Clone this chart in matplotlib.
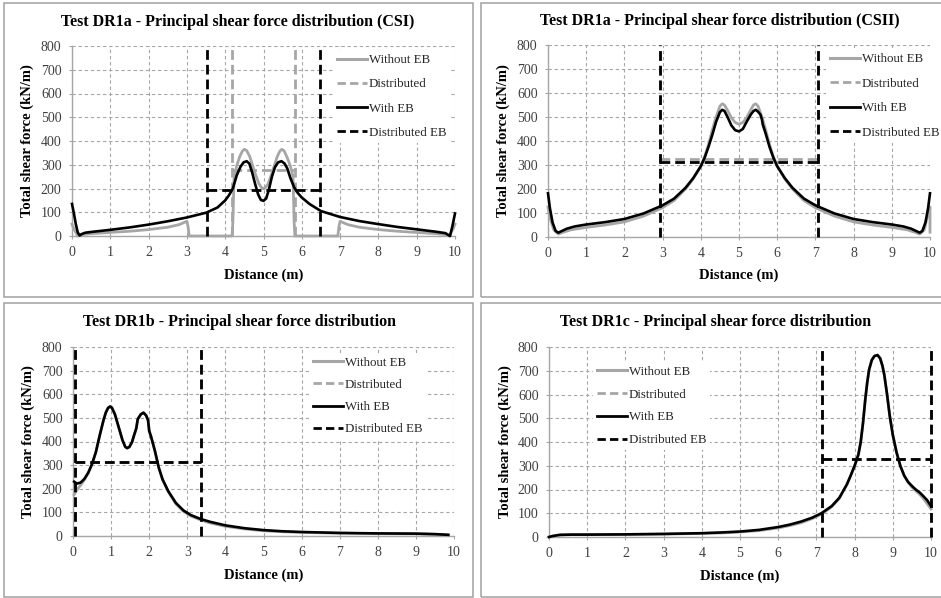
import matplotlib
matplotlib.use('Agg')
import matplotlib.pyplot as plt
import numpy as np
from matplotlib.patches import Rectangle
from matplotlib.lines import Line2D

plt.rcParams['font.family'] = ['Liberation Serif', 'DejaVu Serif']

# ---------------- data ----------------
titles = ["Test DR1a - Principal shear force distribution (CSI)",
          "Test DR1a - Principal shear force distribution (CSII)",
          "Test DR1b - Principal shear force distribution",
          "Test DR1c - Principal shear force distribution"]
legend_labels = ["Without EB", "Distributed", "With EB", "Distributed EB"]
x_ticks = [0, 1, 2, 3, 4, 5, 6, 7, 8, 9, 10]
y_ticks = [0, 100, 200, 300, 400, 500, 600, 700, 800]

# Panel 1 (CSI)
p1_x_without = [0, 0.05, 0.15, 0.25, 0.5, 1.0, 1.5, 2.0, 2.5, 2.8, 3.0, 3.03, 3.06, 4.18, 4.2, 4.23,
                4.3, 4.38, 4.45, 4.5, 4.56, 4.64, 4.72, 4.8, 4.88, 4.95, 5.0, 5.05, 5.12, 5.2, 5.28,
                5.36, 5.43, 5.48, 5.54, 5.62, 5.7, 5.77, 5.8, 5.82, 6.94, 6.97,
                7.0, 7.2, 7.5, 8.0, 8.5, 9.0, 9.5, 9.75, 9.85, 9.95, 10.0]
p1_y_without = [50, 30, 0, 6, 10, 15, 20, 27, 37, 48, 62, 40, 0, 0, 60, 240,
                295, 335, 358, 365, 360, 335, 295, 255, 220, 203, 200, 203, 220, 255, 295,
                335, 358, 365, 358, 330, 295, 250, 60, 0, 0, 40,
                62, 48, 37, 27, 20, 15, 10, 6, 0, 30, 50]
p1_x_with = [0, 0.05, 0.1, 0.15, 0.2, 0.25, 0.35, 0.5, 1.0, 1.5, 2.0, 2.5, 3.0, 3.5, 3.8, 4.0, 4.1,
             4.2, 4.3, 4.4, 4.48, 4.56, 4.63, 4.7, 4.78, 4.86, 4.93, 5.0, 5.07, 5.14, 5.22, 5.3,
             5.38, 5.47, 5.55, 5.62, 5.7, 5.8, 5.9, 6.0, 6.2, 6.5, 7.0, 7.5, 8.0, 8.5, 9.0, 9.5,
             9.75, 9.82, 9.87, 9.93, 10.0]
p1_y_with = [135, 95, 50, 15, 2, 8, 14, 17, 26, 36, 48, 62, 78, 98, 120, 150, 172,
             200, 255, 292, 310, 315, 305, 270, 220, 175, 152, 148, 158, 195, 250, 290,
             310, 315, 305, 285, 245, 205, 180, 162, 135, 105, 80, 63, 50, 38, 28, 18,
             12, 5, 0, 40, 95]
p1_dist_x = [4.18, 5.82]
p1_dist_h = 277
p1_distEB_x = [3.53, 6.47]
p1_distEB_h = 193

# Panel 2 (CSII)
p2_x_without = [0, 0.05, 0.15, 0.27, 0.4, 0.6, 1.0, 1.5, 2.0, 2.5, 3.0, 3.3, 3.6, 3.8, 4.0, 4.1,
                4.2, 4.3, 4.4, 4.5, 4.56, 4.62, 4.7, 4.8, 4.9, 5.0, 5.1, 5.2, 5.3, 5.38, 5.44,
                5.5, 5.6, 5.7, 5.8, 5.9, 6.0, 6.2, 6.4, 6.7, 7.0, 7.5, 8.0, 8.5, 9.0, 9.4, 9.6,
                9.73, 9.85, 9.95, 10.0, 10.0]
p2_y_without = [125, 80, 30, 12, 20, 30, 40, 50, 63, 87, 122, 152, 200, 242, 295, 335,
                385, 445, 500, 545, 555, 550, 528, 497, 477, 470, 477, 497, 528, 550, 555,
                545, 500, 445, 385, 335, 295, 242, 200, 152, 122, 87, 63, 50, 40, 30, 20,
                12, 30, 100, 125, 20]
p2_x_with = [0, 0.05, 0.12, 0.2, 0.27, 0.35, 0.5, 0.7, 1.0, 1.5, 2.0, 2.5, 3.0, 3.3, 3.6, 3.8,
             4.0, 4.1, 4.2, 4.3, 4.4, 4.5, 4.56, 4.62, 4.7, 4.8, 4.9, 5.0, 5.1, 5.2, 5.3, 5.33,
             5.38, 5.44, 5.5, 5.56, 5.6, 5.62, 5.7, 5.8, 5.9, 6.0, 6.2, 6.4, 6.7, 7.0, 7.5, 8.0,
             8.5, 9.0, 9.3, 9.5, 9.65, 9.73, 9.8, 9.88, 9.95, 10.0]
p2_y_with = [182, 120, 60, 25, 18, 24, 35, 44, 52, 62, 75, 98, 132, 160, 205, 245,
             295, 330, 375, 425, 480, 520, 530, 525, 500, 465, 445, 440, 450, 480, 508, 515,
             525, 530, 522, 510, 490, 470, 430, 375, 330, 295, 245, 205, 160, 132, 98, 75,
             62, 52, 44, 35, 24, 18, 25, 60, 120, 182]
p2_dist_x = [2.93, 7.07]
p2_dist_h = 327
p2_distEB_x = [2.93, 7.07]
p2_distEB_h = 313

# Panel 3 (DR1b)
p3_x_without = [0.03, 0.1, 0.2, 0.3, 0.4, 0.5, 0.6, 0.7, 0.8, 0.86, 0.92, 0.97, 1.02, 1.1, 1.2,
                1.3, 1.37, 1.42, 1.48, 1.55, 1.6, 1.66, 1.7, 1.78, 1.85, 1.92, 1.97, 2.0, 2.05,
                2.15, 2.25, 2.35, 2.5, 2.7, 2.9, 3.1, 3.35, 3.6, 4.0, 4.5, 5.0, 5.5, 6.0, 7.0,
                8.0, 9.0, 9.5, 9.85]
p3_y_without = [175, 195, 215, 238, 266, 304, 355, 425, 490, 522, 542, 548, 543, 515, 460,
                405, 378, 372, 377, 398, 425, 455, 495, 515, 522, 510, 490, 445, 420,
                360, 290, 238, 187, 136, 104, 84, 68, 55, 41, 30, 22, 18, 15, 12,
                10, 9, 7, 4]
p3_x_with = [0.03, 0.1, 0.2, 0.3, 0.4, 0.5, 0.6, 0.7, 0.8, 0.86, 0.92, 0.97, 1.02, 1.1, 1.2,
             1.3, 1.37, 1.42, 1.48, 1.55, 1.6, 1.66, 1.7, 1.78, 1.85, 1.92, 1.97, 2.0, 2.05,
             2.15, 2.25, 2.35, 2.5, 2.7, 2.9, 3.1, 3.35, 3.6, 4.0, 4.5, 5.0, 5.5, 6.0, 7.0,
             8.0, 9.0, 9.5, 9.85]
p3_y_with = [230, 222, 226, 242, 268, 305, 355, 425, 490, 522, 542, 548, 543, 515, 460,
             405, 378, 372, 377, 398, 425, 455, 495, 515, 522, 510, 490, 445, 420,
             360, 290, 240, 190, 140, 108, 88, 72, 60, 45, 33, 25, 20, 17, 13,
             11, 10, 8, 5]
p3_dist_x = [0.04, 3.35]
p3_dist_h = 315
p3_distEB_x = [0.04, 3.35]
p3_distEB_h = 315

# Panel 4 (DR1c)
p4_x_without = [0, 0.1, 0.2, 0.3, 0.6, 1.0, 2.0, 3.0, 4.0, 4.5, 5.0, 5.5, 6.0, 6.3, 6.6, 6.9, 7.13,
                7.4, 7.6, 7.8, 7.9, 8.0, 8.1, 8.16, 8.22, 8.28, 8.33, 8.38, 8.45, 8.52, 8.6, 8.67,
                8.73, 8.78, 8.85, 8.92, 9.0, 9.1, 9.2, 9.3, 9.4, 9.5, 9.6, 9.7, 9.8, 9.9, 10.0]
p4_y_without = [0, 4, 7, 9, 10, 10, 11, 12, 15, 17, 21, 27, 38, 48, 60, 78, 96,
                127, 162, 222, 258, 298, 345, 400, 480, 580, 650, 705, 745, 762, 766, 752,
                720, 680, 600, 510, 430, 355, 298, 258, 230, 210, 195, 180, 162, 140, 118]
p4_x_with = [0, 0.1, 0.2, 0.3, 0.6, 1.0, 2.0, 3.0, 4.0, 4.5, 5.0, 5.5, 6.0, 6.3, 6.6, 6.9, 7.13,
             7.4, 7.6, 7.8, 7.9, 8.0, 8.1, 8.16, 8.22, 8.28, 8.33, 8.38, 8.45, 8.52, 8.6, 8.67,
             8.73, 8.78, 8.85, 8.92, 9.0, 9.1, 9.2, 9.3, 9.4, 9.5, 9.6, 9.7, 9.8, 9.9, 10.0]
p4_y_with = [0, 4, 7, 9, 10, 10, 11, 13, 16, 19, 23, 30, 42, 52, 65, 82, 100,
             130, 165, 222, 260, 300, 348, 400, 480, 580, 650, 705, 745, 762, 766, 752,
             720, 680, 600, 510, 430, 355, 298, 258, 232, 215, 200, 188, 172, 155, 130]
p4_dist_x = [7.14, 10.0]
p4_dist_h = 329
p4_distEB_x = [7.14, 10.0]
p4_distEB_h = 329

# ---------------- layout (pixels) ----------------
W, H = 941, 598
fig = plt.figure(figsize=(W / 100, H / 100), dpi=100)


def fx(px):
    return px / W


def fy(py):
    return 1 - py / H


GRAY = '#A6A6A6'
GRID = '#A6A6A6'
TXT = '#404040'

panels = [
    dict(box=(4, 3, 473, 297), ax=(72, 46, 455, 236), title=(238, 22), ylab_x=27, xlab_y=275,
         leg=(337, 96.5, 0.95), data=(p1_x_without, p1_y_without, p1_x_with, p1_y_with,
                                       p1_dist_x, p1_dist_h, p1_distEB_x, p1_distEB_h)),
    dict(box=(481, 3, 943, 297), ax=(548, 45, 930, 237), title=(720, 21), ylab_x=503, xlab_y=275,
         leg=(830, 96, 0.97), data=(p2_x_without, p2_y_without, p2_x_with, p2_y_with,
                                     p2_dist_x, p2_dist_h, p2_distEB_x, p2_distEB_h)),
    dict(box=(4, 303, 473, 597), ax=(73, 347, 454, 536), title=(239, 322), ylab_x=28, xlab_y=575,
         leg=(313, 396, 0.78), data=(p3_x_without, p3_y_without, p3_x_with, p3_y_with,
                                      p3_dist_x, p3_dist_h, p3_distEB_x, p3_distEB_h)),
    dict(box=(481, 303, 943, 597), ax=(549, 347, 931, 537), title=(716, 322), ylab_x=505, xlab_y=576,
         leg=(597, 406, 0.83), data=(p4_x_without, p4_y_without, p4_x_with, p4_y_with,
                                      p4_dist_x, p4_dist_h, p4_distEB_x, p4_distEB_h)),
]


def dist_lines(xs, h, top):
    a, b = xs
    return [a, a, np.nan, a, b, np.nan, b, b], [0, top, np.nan, h, h, np.nan, 0, top]


for i, p in enumerate(panels):
    x0, y0, x1, y1 = p['box']
    fig.add_artist(Rectangle((fx(x0), fy(y1)), fx(x1) - fx(x0), fy(y0) - fy(y1),
                             transform=fig.transFigure, fill=False, edgecolor='#A0A0A0', lw=1.1))
    l, t, r, b = p['ax']
    ax = fig.add_axes([fx(l), fy(b), fx(r) - fx(l), fy(t) - fy(b)])
    ax.set_xlim(0, 10)
    ax.set_ylim(0, 800)
    ax.set_xticks(x_ticks)
    ax.set_yticks(y_ticks)
    ax.grid(True, color=GRID, lw=0.8, linestyle=(0, (3, 2.5)))
    ax.set_axisbelow(True)
    for s in ['top', 'right']:
        ax.spines[s].set_visible(False)
    for s in ['left', 'bottom']:
        ax.spines[s].set_color(GRAY)
        ax.spines[s].set_linewidth(1.0)
    ax.tick_params(axis='both', direction='out', length=2.5, width=0.8, color=GRAY,
                   labelsize=10, labelcolor=TXT, pad=5)

    xw, yw, xe, ye, dx, dh, dex, deh = p['data']
    dxs, dys = dist_lines(dx, dh, 800)
    dexs, deys = dist_lines(dex, deh, 800)
    l1, = ax.plot(xw, yw, color=GRAY, lw=2.0, solid_joinstyle='round', zorder=2)
    l2, = ax.plot(dxs, dys, color=GRAY, lw=2.0, linestyle=(0, (3.5, 1.8)), zorder=2)
    l3, = ax.plot(xe, ye, color='black', lw=1.9, solid_joinstyle='round', zorder=3)
    l4, = ax.plot(dexs, deys, color='black', lw=2.0, linestyle=(0, (3.5, 1.8)), zorder=3)
    for ln in (l1, l2, l3, l4):
        ln.set_clip_on(False)

    h1 = Line2D([], [], color=GRAY, lw=2.2)
    h2 = Line2D([], [], color=GRAY, lw=2.0, linestyle=(0, (3.0, 1.5)))
    h3 = Line2D([], [], color='black', lw=2.0)
    h4 = Line2D([], [], color='black', lw=2.0, linestyle=(0, (3.0, 1.5)))
    hx, hy, ls = p['leg']
    leg = ax.legend([h1, h2, h3, h4], legend_labels, loc='center left',
                    bbox_to_anchor=(fx(hx - 4), fy(hy)), bbox_transform=fig.transFigure,
                    frameon=True, fancybox=False, edgecolor='none', facecolor='white', framealpha=1,
                    borderpad=0.3, handlelength=2.3, handletextpad=0.15, labelspacing=ls,
                    fontsize=9.3, borderaxespad=0)
    for txt in leg.get_texts():
        txt.set_color('#262626')
    leg.set_zorder(5)

    fig.text(fx(p['title'][0]), fy(p['title'][1]), titles[i], ha='center', va='center',
             fontsize=11.5, fontweight='bold', color='black')
    ax.set_ylabel("Total shear force (kN/m)", fontsize=10.5, fontweight='bold', color='black')
    ax.yaxis.set_label_coords((p['ylab_x'] - l) / (r - l), 0.5)
    ax.yaxis.label.set_va('center')
    ax.set_xlabel("Distance (m)", fontsize=10.5, fontweight='bold', color='black')
    ax.xaxis.set_label_coords(0.5, -(p['xlab_y'] - b) / (b - t))
    ax.xaxis.label.set_va('center')

fig.savefig('out.png', dpi=100)
